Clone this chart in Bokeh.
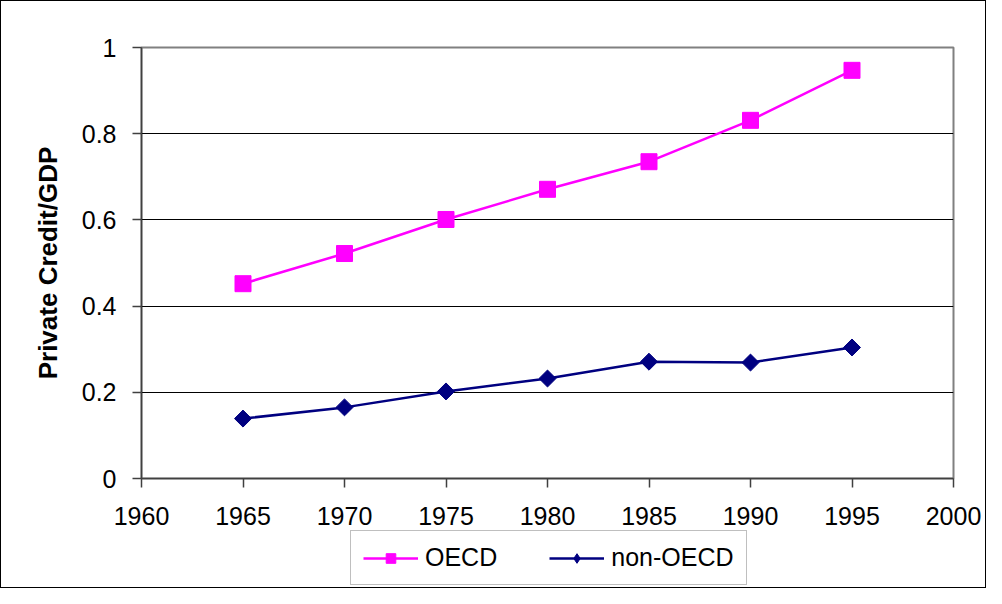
from bokeh.plotting import figure
from bokeh.layouts import column
from bokeh.models import Legend, LegendItem, FixedTicker, NumeralTickFormatter, Range1d
from bokeh.embed import file_html
from bokeh.resources import INLINE
import math

years = [1965, 1970, 1975, 1980, 1985, 1990, 1995]
oecd = [0.452, 0.522, 0.601, 0.671, 0.735, 0.831, 0.947]
non_oecd = [0.139, 0.165, 0.202, 0.232, 0.271, 0.269, 0.304]
x_ticks = [1960, 1965, 1970, 1975, 1980, 1985, 1990, 1995, 2000]
y_ticks = [0, 0.2, 0.4, 0.6, 0.8, 1.0]
series_names = ["OECD", "non-OECD"]

FONT = "Liberation Sans"
C_OECD = "#FF00FF"
C_NON = "#000080"

p = figure(width=984, height=528, output_backend="svg", toolbar_location=None,
           x_range=Range1d(1960, 2000), y_range=Range1d(0, 1))
p.min_border_left = 140
p.min_border_right = 32
p.min_border_top = 46
p.min_border_bottom = 51
p.background_fill_color = "white"
p.border_fill_color = "white"
p.outline_line_color = "#808080"
p.outline_line_width = 2

p.xgrid.visible = False
p.ygrid.grid_line_color = "black"
p.ygrid.grid_line_width = 1
p.ygrid.ticker = FixedTicker(ticks=y_ticks)

for ax in (p.xaxis[0], p.yaxis[0]):
    ax.axis_line_color = "#404040"
    ax.axis_line_width = 1.5
    ax.major_tick_line_color = "#404040"
    ax.major_tick_line_width = 1.5
    ax.major_tick_in = 0
    ax.major_tick_out = 9
    ax.minor_tick_line_color = None
    ax.major_label_text_font = FONT
    ax.major_label_text_font_size = "25px"
    ax.major_label_text_color = "black"

p.xaxis.ticker = FixedTicker(ticks=x_ticks)
p.xaxis.major_label_standoff = 19
p.yaxis.ticker = FixedTicker(ticks=y_ticks)
p.yaxis.formatter = NumeralTickFormatter(format="0.[0]")
p.yaxis.major_label_standoff = 16
p.yaxis.axis_label = "Private Credit/GDP"
p.yaxis.axis_label_text_font = FONT
p.yaxis.axis_label_text_font_size = "26px"
p.yaxis.axis_label_text_font_style = "bold"
p.yaxis.axis_label_text_color = "black"
p.yaxis.axis_label_standoff = 16

p.line(years, oecd, line_color=C_OECD, line_width=2.5)
p.scatter(years, oecd, marker="square", size=16, fill_color=C_OECD, line_color=C_OECD)
p.line(years, non_oecd, line_color=C_NON, line_width=2.5)
p.scatter(years, non_oecd, marker="square", size=12, angle=math.pi / 4,
          fill_color=C_NON, line_color=C_NON)

# legend strip below the chart (its series sit outside this strip's view,
# only the legend keys are seen)
q = figure(width=984, height=58, output_backend="svg", toolbar_location=None,
           x_axis_type=None, y_axis_type=None,
           x_range=Range1d(1960, 2000), y_range=Range1d(5, 6))
q.min_border = 0
q.outline_line_color = None
q.xgrid.visible = False
q.ygrid.visible = False
q.background_fill_color = "white"
q.border_fill_color = "white"
k1 = q.line(years, oecd, line_color=C_OECD, line_width=2.5)
m1 = q.scatter(years, oecd, marker="square", size=16, fill_color=C_OECD, line_color=C_OECD)
k2 = q.line(years, non_oecd, line_color=C_NON, line_width=2.5)
m2 = q.scatter(years, non_oecd, marker="diamond", size=18,
               fill_color=C_NON, line_color=C_NON)

legend = Legend(items=[LegendItem(label=series_names[0], renderers=[k1, m1]),
                       LegendItem(label=series_names[1], renderers=[k2, m2])],
                orientation="horizontal", location=(209, 2))
legend.label_text_font = FONT
legend.label_text_font_size = "25px"
legend.label_text_color = "black"
legend.glyph_width = 55
legend.glyph_height = 24
legend.label_standoff = 7
legend.spacing = 52
legend.padding = 12
legend.margin = 0
legend.border_line_color = "#808080"
legend.border_line_width = 1.5
legend.background_fill_color = "white"
q.add_layout(legend, "center")

layout = column(p, q, spacing=0)
layout.styles = {"border": "1px solid #000000"}

open("out.html", "w").write(file_html(layout, INLINE))
